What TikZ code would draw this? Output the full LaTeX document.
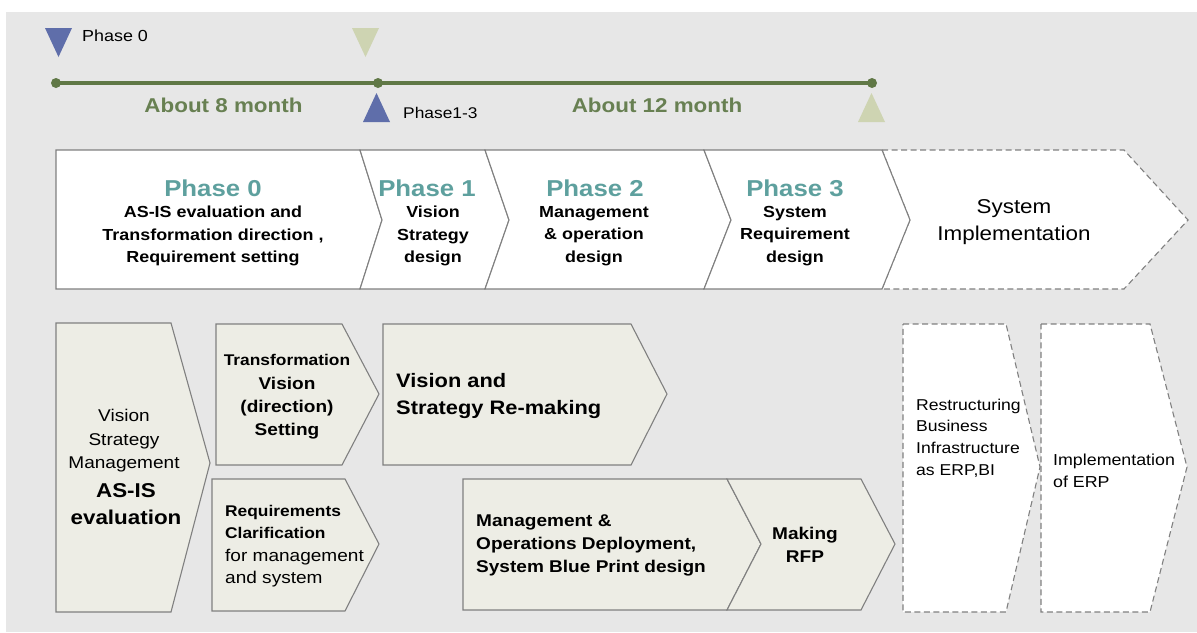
\documentclass[tikz,border=0pt]{standalone}
\usepackage{fontspec}
\setmainfont{Liberation Sans}[FakeStretch=1.12]
\definecolor{bg}{RGB}{231,231,231}
\definecolor{boxfill}{RGB}{237,237,229}
\definecolor{edge}{RGB}{128,128,128}
\definecolor{phteal}{RGB}{94,160,158}
\definecolor{tlgreen}{RGB}{96,120,70}
\definecolor{txgreen}{RGB}{104,128,82}
\definecolor{triblue}{RGB}{95,110,170}
\definecolor{tripale}{RGB}{206,212,178}
\newcommand{\fs}[2]{\fontsize{#1}{#2}\selectfont}
\begin{document}
\begin{tikzpicture}[x=1pt,y=-1pt,
  box/.style={draw=edge, line width=1.1pt, fill=boxfill, line join=miter},
  topbox/.style={draw=edge, line width=1.1pt, fill=white, line join=miter},
  dbox/.style={draw=edge, line width=1.1pt, fill=white, dash pattern=on 6pt off 3.5pt},
  txt/.style={inner sep=0pt, text=black},
  head/.style={txt, text=phteal, anchor=base, font=\fs{23}{26}\bfseries},
  topsub/.style={txt, align=center, font=\fs{16}{22.5}\bfseries},
  about/.style={txt, text=txgreen, font=\fs{20}{24}\bfseries},
  tl/.style={draw=tlgreen, line width=3.5pt},
  dot/.style={fill=tlgreen}
]
\useasboundingbox (0,0) rectangle (1197,632);
\fill[white] (0,0) rectangle (1197,632);
\fill[bg] (6,12) rectangle (1197,632);

% timeline
\coordinate (t0) at (56,83);
\coordinate (t1) at (378,83);
\coordinate (t2) at (872,83);
\draw[tl] (t0) -- (t1) -- (t2);
\foreach \c in {t0,t1,t2} \fill[dot] (\c) circle (5);
\fill[triblue] (45,28) -- (72,28) -- (58.5,57) -- cycle;
\fill[tripale] (352,28) -- (379,28) -- (365.5,57) -- cycle;
\fill[triblue] (363,122) -- (390,122) -- (376.5,93) -- cycle;
\fill[tripale] (858,122) -- (885,122) -- (871.5,93) -- cycle;
\node[txt, anchor=west, font=\fs{16}{19}] (lp0) at (82,36) {Phase 0};
\node[txt, anchor=west, font=\fs{15.5}{19}] (lp13) at (403,113) {Phase1-3};
\node[about] (a8) at (223.5,105.5) {About 8 month};
\node[about] (a12) at (657,105.5) {About 12 month};

% top row
\draw[dbox] (882,150) -- (1124,150) -- (1188,220) -- (1124,289) -- (882,289) -- (910,220) -- cycle;
\draw[topbox] (56,150) -- (360,150) -- (382,220) -- (360,289) -- (56,289) -- cycle;
\draw[topbox] (360,150) -- (485,150) -- (509,220) -- (485,289) -- (360,289) -- (382,220) -- cycle;
\draw[topbox] (485,150) -- (704,150) -- (731,220) -- (704,289) -- (485,289) -- (509,220) -- cycle;
\draw[topbox] (704,150) -- (882,150) -- (910,220) -- (882,289) -- (704,289) -- (731,220) -- cycle;

\node[head] (h0) at (213,196) {Phase 0};
\node[topsub] (s0) at (213,236) {AS-IS evaluation and\\Transformation direction ,\\Requirement setting};
\node[head] (h1) at (427,196) {Phase 1};
\node[topsub] (s1) at (433,236) {Vision\\Strategy\\design};
\node[head] (h2) at (595,196) {Phase 2};
\node[topsub] (s2) at (594,236) {Management\\\& operation\\design};
\node[head] (h3) at (795,196) {Phase 3};
\node[topsub] (s3) at (795,236) {System\\Requirement\\design};
\node[txt, align=center, font=\fs{20}{27}] (si) at (1014,222) {System\\Implementation};

% bottom row
\draw[box] (56,323) -- (171,323) -- (210,463) -- (171,612) -- (56,612) -- cycle;
\draw[box] (216,324) -- (342,324) -- (379,394) -- (342,465) -- (216,465) -- cycle;
\draw[box] (212,479) -- (345,479) -- (379,544) -- (345,611) -- (212,611) -- cycle;
\draw[box] (383,324) -- (631,324) -- (667,394) -- (631,465) -- (383,465) -- cycle;
\draw[box] (463,479) -- (727,479) -- (761,544) -- (727,610) -- (463,610) -- cycle;
\draw[box] (727,479) -- (861,479) -- (895,544) -- (861,610) -- (727,610) -- (761,544) -- cycle;
\draw[dbox] (903,324) -- (1006,324) -- (1040,467) -- (1006,612) -- (903,612) -- cycle;
\draw[dbox] (1041,324) -- (1150,324) -- (1187,467) -- (1150,612) -- (1041,612) -- cycle;

\node[txt, align=center, font=\fs{17}{23.5}] (asis1) at (124,441) {Vision\\Strategy\\Management};
\node[txt, align=center, font=\fs{20}{27}\bfseries] (asis2) at (126,504) {AS-IS\\evaluation};
\node[txt, align=center, font=\fs{17}{23.3}\bfseries] (tv) at (287,397) {{\fs{15.5}{23.3}Transformation}\\Vision\\(direction)\\Setting};
\node[txt, align=left, anchor=west, font=\fs{17}{22.3}] (rc) at (225,546) {{\fs{15.5}{22.3}\bfseries Requirements}\\{\fs{15.5}{22.3}\bfseries Clarification}\\for management\\and system};
\node[txt, align=left, anchor=west, font=\fs{19.5}{27}\bfseries] (vs) at (396,396) {Vision and\\Strategy Re-making};
\node[txt, align=left, anchor=west, font=\fs{17}{23}\bfseries] (mo) at (476,545) {Management \&\\Operations Deployment,\\System Blue Print design};
\node[txt, align=center, font=\fs{17}{23}\bfseries] (rfp) at (805,545) {Making\\RFP};
\node[txt, align=left, anchor=west, font=\fs{15.7}{21.7}] (rb) at (916,438) {Restructuring\\Business\\Infrastructure\\as ERP,BI};
\node[txt, align=left, anchor=west, font=\fs{15.9}{22}] (ie) at (1053,471) {Implementation\\of ERP};
\end{tikzpicture}
\end{document}
